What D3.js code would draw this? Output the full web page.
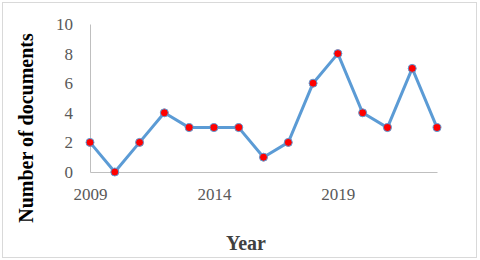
<!DOCTYPE html>
<html>
<head>
<meta charset="utf-8">
<script src="https://cdn.jsdelivr.net/npm/d3@7"></script>
<style>
  body { margin: 0; background: #fff; }
  svg { display: block; }
</style>
</head>
<body>
<div id="chart"></div>
<script>
const years = [2009, 2010, 2011, 2012, 2013, 2014, 2015, 2016, 2017, 2018, 2019, 2020, 2021, 2022, 2023]
const docs = [2, 0, 2, 4, 3, 3, 3, 1, 2, 6, 8, 4, 3, 7, 3]
const yearLabels = [2009, 2014, 2019]
const yTicks = [0, 2, 4, 6, 8, 10]

const width = 480
const height = 260
const font = '"Liberation Serif", "Times New Roman", serif'

const svg = d3.select('#chart')
  .append('svg')
  .attr('width', width)
  .attr('height', height)

// outer frame
svg.append('rect')
  .attr('x', 2.5).attr('y', 2.5)
  .attr('width', 474).attr('height', 255)
  .attr('fill', '#fff')
  .attr('stroke', '#d9d9d9')

const x = d3.scaleLinear().domain([2009, 2023]).range([90, 437])
const y = d3.scaleLinear().domain([0, 10]).range([172, 24])

// y axis
const yAxis = svg.append('g')
  .attr('transform', 'translate(90,0)')
  .call(d3.axisLeft(y).tickValues(yTicks).tickSize(0).tickPadding(17))
yAxis.select('.domain').attr('stroke', '#bfbfbf').attr('stroke-width', 1)
yAxis.selectAll('text')
  .attr('font-family', font).attr('font-size', 17).attr('fill', '#595959')

// x axis
const xAxis = svg.append('g')
  .attr('transform', 'translate(0,172)')
  .call(d3.axisBottom(x).tickValues(yearLabels).tickFormat(d3.format('d')).tickSize(0).tickPadding(16))
xAxis.select('.domain').attr('stroke', '#bfbfbf').attr('stroke-width', 1)
xAxis.selectAll('text')
  .attr('font-family', font).attr('font-size', 17).attr('fill', '#595959')

const line = d3.line()
  .x((d, i) => x(years[i]))
  .y(d => y(d))

svg.append('path')
  .datum(docs)
  .attr('d', line)
  .attr('fill', 'none')
  .attr('stroke', '#5b9bd5')
  .attr('stroke-width', 3)
  .attr('stroke-linejoin', 'round')

svg.selectAll('circle.pt')
  .data(docs)
  .enter()
  .append('circle')
  .attr('class', 'pt')
  .attr('cx', (d, i) => x(years[i]))
  .attr('cy', d => y(d))
  .attr('r', 4)
  .attr('fill', '#ff0000')
  .attr('stroke', '#5b9bd5')
  .attr('stroke-width', 1)

// axis titles
svg.append('text')
  .attr('transform', 'translate(33,128) rotate(-90)')
  .attr('text-anchor', 'middle')
  .attr('font-family', font)
  .attr('font-weight', 'bold')
  .attr('font-size', 20)
  .attr('fill', '#000')
  .text('Number of documents')

svg.append('text')
  .attr('x', 246).attr('y', 250)
  .attr('text-anchor', 'middle')
  .attr('font-family', font)
  .attr('font-weight', 'bold')
  .attr('font-size', 20)
  .attr('fill', '#404040')
  .text('Year')
</script>
</body>
</html>
